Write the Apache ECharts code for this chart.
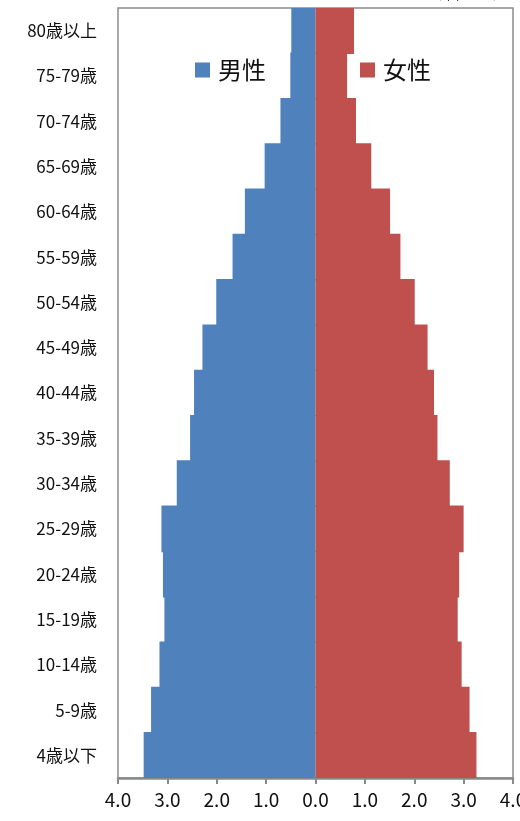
<!DOCTYPE html>
<html>
<head>
<meta charset="utf-8">
<script src="https://cdn.jsdelivr.net/npm/echarts@6/dist/echarts.min.js"></script>
<style>
  html, body { margin: 0; padding: 0; background: #fff; }
  #chart { width: 520px; height: 821px; }
</style>
</head>
<body>
<div id="chart"></div>
<script>
// Age groups, youngest first (bottom of the pyramid)
const ageGroups = ['4歳以下', '5-9歳', '10-14歳', '15-19歳', '20-24歳', '25-29歳', '30-34歳',
  '35-39歳', '40-44歳', '45-49歳', '50-54歳', '55-59歳', '60-64歳', '65-69歳',
  '70-74歳', '75-79歳', '80歳以上'];

// Share of total population (%)
const maleShare = [3.48, 3.33, 3.16, 3.06, 3.09, 3.12, 2.81, 2.54, 2.46, 2.29, 2.01, 1.68, 1.43, 1.03, 0.71, 0.51, 0.49];
const femaleShare = [3.26, 3.12, 2.96, 2.88, 2.91, 3.00, 2.72, 2.47, 2.40, 2.27, 2.01, 1.72, 1.51, 1.13, 0.82, 0.64, 0.78];

const seriesNames = ['男性', '女性'];
const axisTicks = { min: -4, max: 4, step: 1 };

const colors = ['#4F81BD', '#C0504D'];
const font = '"Noto Sans CJK JP", "Noto Sans", sans-serif';
const chart = echarts.init(document.getElementById('chart'));

// Bars fill the whole band and overlap slightly so no seams show between age groups
const barStyle = c => ({ color: c, borderColor: c, borderWidth: 0, opacity: 1 });

chart.setOption({
  animation: false,
  textStyle: { fontFamily: font },
  color: colors,
  graphic: [{
    type: 'text',
    right: 14,
    top: -12,
    style: { text: '（単位：%）', font: '13px ' + font, fill: '#222' }
  }],
  legend: {
    data: seriesNames,
    left: 190,
    top: 53,
    icon: 'rect',
    itemWidth: 15,
    itemHeight: 15,
    itemGap: 94,
    textStyle: { fontSize: 24, color: '#111', fontFamily: font, padding: [0, 0, 0, 3] }
  },
  grid: {
    left: 118,
    right: 7,
    top: 8,
    bottom: 43,
    show: true,
    borderColor: '#8c8c8c',
    borderWidth: 1.5,
    outerBoundsMode: 'none',
    containLabel: false
  },
  xAxis: {
    type: 'value',
    min: axisTicks.min,
    max: axisTicks.max,
    interval: axisTicks.step,
    splitLine: { show: false },
    axisLine: { show: true, lineStyle: { color: '#898989', width: 2.5 } },
    axisTick: { show: true, length: 6, lineStyle: { color: '#898989', width: 2 } },
    axisLabel: {
      margin: 12,
      fontSize: 19,
      color: '#111',
      fontFamily: font,
      formatter: v => Math.abs(v).toFixed(1)
    }
  },
  yAxis: {
    type: 'category',
    data: ageGroups,
    axisLine: { show: false },
    axisTick: { show: false },
    splitLine: { show: false },
    splitArea: { show: false },
    axisLabel: { margin: 21, fontSize: 17, color: '#111', fontFamily: font }
  },
  series: [
    {
      name: seriesNames[0],
      type: 'bar',
      stack: 'pop',
      barWidth: '103%',
      itemStyle: barStyle(colors[0]),
      emphasis: { disabled: true },
      data: maleShare.map(v => -v)
    },
    {
      name: seriesNames[1],
      type: 'bar',
      stack: 'pop',
      barWidth: '103%',
      itemStyle: barStyle(colors[1]),
      emphasis: { disabled: true },
      data: femaleShare
    }
  ]
});
</script>
</body>
</html>
